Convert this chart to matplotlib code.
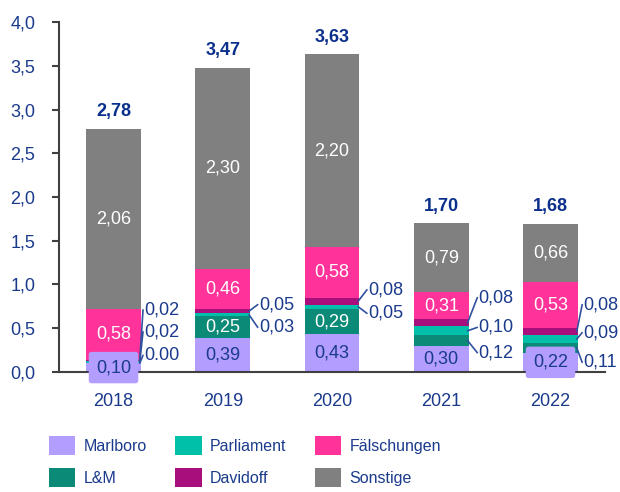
import matplotlib.pyplot as plt
from matplotlib.patches import Patch
import numpy as np

plt.rcParams['font.family'] = ['Liberation Sans', 'DejaVu Sans']

years = ['2018', '2019', '2020', '2021', '2022']
marlboro = [0.10, 0.39, 0.43, 0.30, 0.22]
lm = [0.00, 0.25, 0.29, 0.12, 0.11]
parliament = [0.02, 0.03, 0.05, 0.10, 0.09]
davidoff = [0.02, 0.05, 0.08, 0.08, 0.08]
faelschungen = [0.58, 0.46, 0.58, 0.31, 0.53]
sonstige = [2.06, 2.30, 2.20, 0.79, 0.66]
totals = [2.78, 3.47, 3.63, 1.70, 1.68]

series = [
    ('Marlboro', marlboro, '#b39dff'),
    ('L&M', lm, '#0b8a78'),
    ('Parliament', parliament, '#00c0aa'),
    ('Davidoff', davidoff, '#a90f7c'),
    ('Fälschungen', faelschungen, '#ff3399'),
    ('Sonstige', sonstige, '#808080'),
]

# where the leader-line labels of the small segments sit (y in data units)
leader_y = {
    0: {'L&M': 0.19, 'Parliament': 0.46, 'Davidoff': 0.71},
    1: {'Parliament': 0.51, 'Davidoff': 0.77},
    2: {'Parliament': 0.67, 'Davidoff': 0.94},
    3: {'L&M': 0.22, 'Parliament': 0.51, 'Davidoff': 0.85},
    4: {'L&M': 0.11, 'Parliament': 0.45, 'Davidoff': 0.77},
}
leader_dx = [0.03, 0.08, 0.08, 0.09, 0.05]

navy = '#1a3a8c'
axcol = '#404040'
width = 0.5
fs = 13

fig = plt.figure(figsize=(6.2, 4.92), dpi=100)
ax = fig.add_axes([0.095, 0.244, 0.881, 0.711])

x = np.arange(len(years))
bottom = np.zeros(len(years))
for name, vals, col in series:
    vals = np.array(vals)
    ax.bar(x, vals, width, bottom=bottom, color=col, zorder=2)
    for i, v in enumerate(vals):
        yc = bottom[i] + v / 2
        txt = f'{v:.2f}'.replace('.', ',')
        if name == 'Marlboro':
            bb = None
            if v < 0.3:
                bb = dict(boxstyle='round,pad=0.4,rounding_size=0.15', fc=col, ec='none')
            ax.text(x[i], yc, txt, ha='center', va='center', fontsize=fs,
                    color=navy, bbox=bb, zorder=4)
        elif name in leader_y[i]:
            if name == 'L&M' and i == 0:
                txt = '0.00'
            ly = leader_y[i][name]
            xe = x[i] + width / 2
            tx = xe + leader_dx[i]
            ax.plot([xe - 0.01, tx - 0.01], [yc, ly], color='#3050a0', lw=1.2,
                    zorder=3, solid_capstyle='round')
            ax.text(tx, ly, txt, ha='left', va='center', fontsize=fs,
                    color=navy, zorder=4)
        else:
            ax.text(x[i], yc, txt, ha='center', va='center', fontsize=fs,
                    color='white', zorder=4)
    bottom += vals

for i, t in enumerate(totals):
    ax.text(x[i], bottom[i] + 0.1, f'{t:.2f}'.replace('.', ','), ha='center',
            va='bottom', fontsize=fs, fontweight='bold', color='#0a2f8c')

ax.set_xlim(-0.5, 4.5)
ax.set_ylim(0, 4.0)
ax.set_yticks(np.arange(0, 4.01, 0.5))
ax.set_yticklabels([f'{t:.1f}'.replace('.', ',') for t in np.arange(0, 4.01, 0.5)])
ax.set_xticks(x)
ax.set_xticklabels(years)
ax.tick_params(axis='y', colors=axcol, labelcolor=navy, labelsize=fs, length=5,
               width=1.5, direction='out', pad=12)
ax.tick_params(axis='x', length=0, labelcolor=navy, labelsize=fs, pad=15)
for s in ['top', 'right']:
    ax.spines[s].set_visible(False)
for s in ['left', 'bottom']:
    ax.spines[s].set_color(axcol)
    ax.spines[s].set_linewidth(1.5)

handles = [Patch(facecolor=c, edgecolor='none') for _, _, c in series]
labels = [n for n, _, _ in series]
fig.legend(handles, labels, ncol=3, loc='upper left', bbox_to_anchor=(0.079, 0.114),
           frameon=False, fontsize=11.5, handlelength=1.65, handleheight=1.45,
           handletextpad=0.5, columnspacing=1.8, labelspacing=0.85,
           borderpad=0, borderaxespad=0, labelcolor=navy)

fig.savefig('out.png', dpi=100)
